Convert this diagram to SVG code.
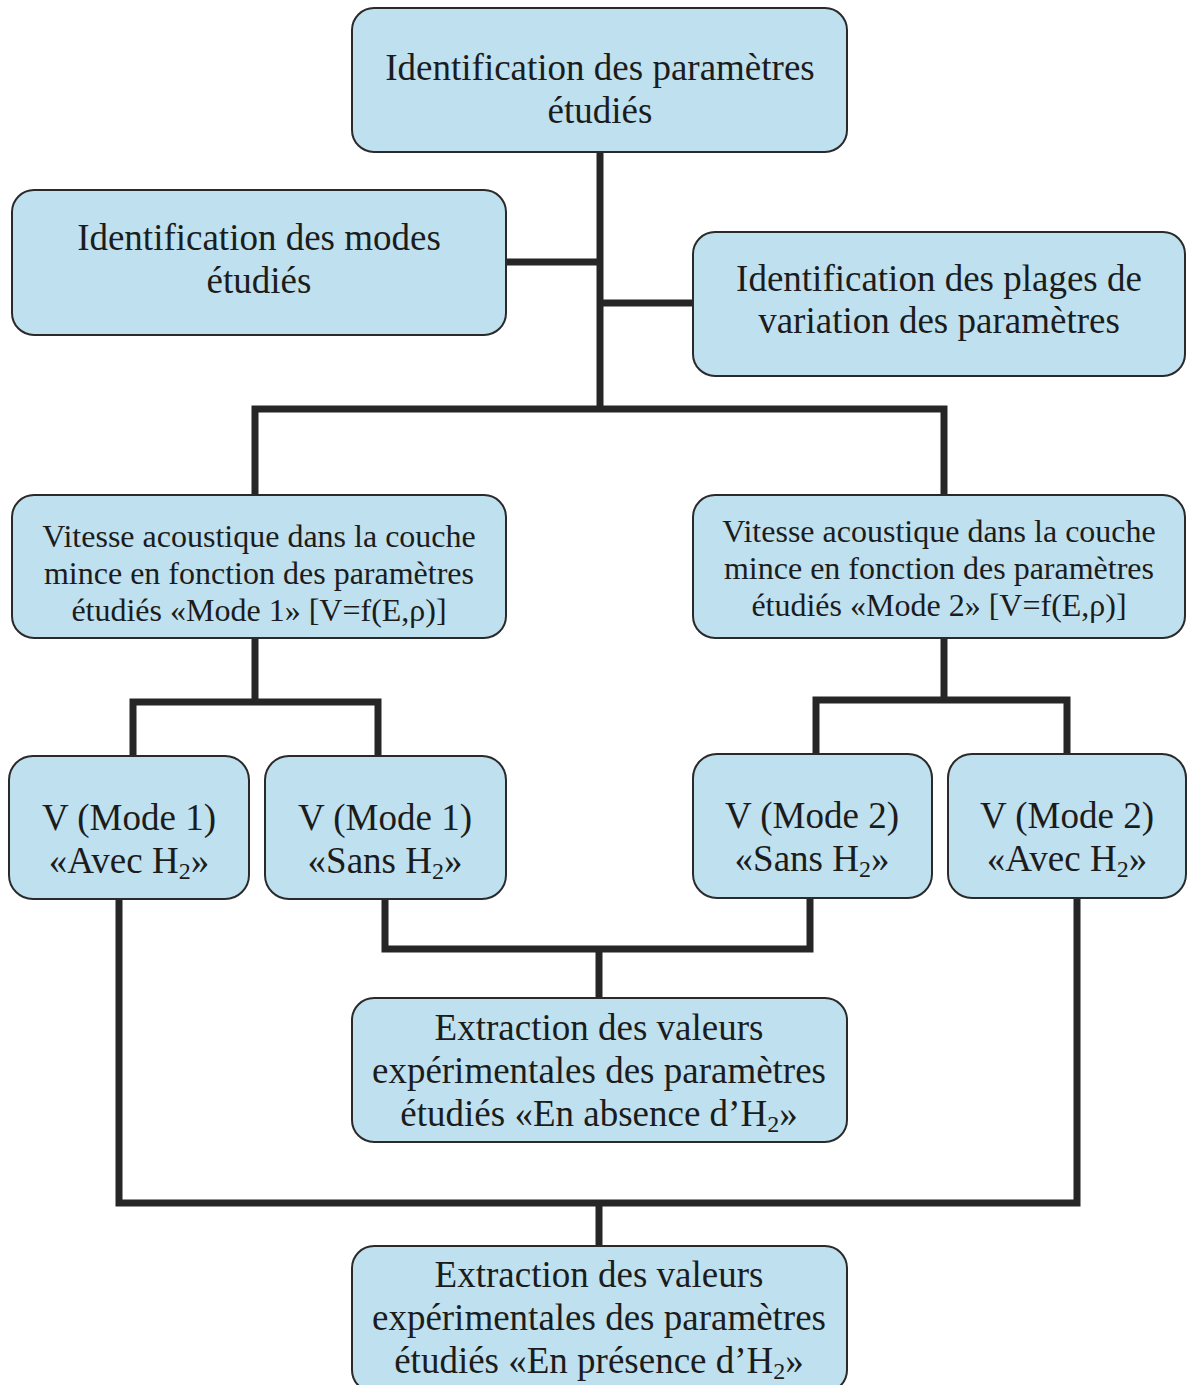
<svg xmlns="http://www.w3.org/2000/svg" width="1188" height="1385" viewBox="0 0 1188 1385">
<style>
.box{fill:#bfe0ee;stroke:#2a2a2a;stroke-width:2}
.t{font-family:"Liberation Serif","Times New Roman",serif;fill:#1c1c1c;text-anchor:middle}
.l{font-size:37px}
.m{font-size:32px}
.sub{font-size:24px}
.c{fill:none;stroke:#262626;stroke-width:7;stroke-linejoin:miter;stroke-linecap:butt}
</style>
<rect width="1188" height="1385" fill="#ffffff"/>
<g id="connectors">
<path class="c" d="M600,152 V409"/>
<path class="c" d="M507,262 H600"/>
<path class="c" d="M600,303 H692"/>
<path class="c" d="M255,495 V409 H944 V495"/>
<path class="c" d="M255,637 V702"/>
<path class="c" d="M133,756 V702 H378 V756"/>
<path class="c" d="M944,637 V700"/>
<path class="c" d="M816,754 V700 H1067 V754"/>
<path class="c" d="M385,899 V949 H810 V898"/>
<path class="c" d="M599,949 V998"/>
<path class="c" d="M119,899 V1203 H1077 V898"/>
<path class="c" d="M599,1203 V1246"/>
</g>
<g id="n1">
<rect class="box" x="352" y="8" width="495" height="144" rx="22"/>
<text class="t l" x="600" y="80">Identification des paramètres</text>
<text class="t l" x="600" y="123">étudiés</text>
</g>
<g id="n2">
<rect class="box" x="12" y="190" width="494" height="145" rx="22"/>
<text class="t l" x="259" y="250">Identification des modes</text>
<text class="t l" x="259" y="293">étudiés</text>
</g>
<g id="n3">
<rect class="box" x="693" y="232" width="492" height="144" rx="22"/>
<text class="t l" x="939" y="291">Identification des plages de</text>
<text class="t l" x="939" y="333">variation des paramètres</text>
</g>
<g id="n4">
<rect class="box" x="12" y="495" width="494" height="143" rx="22"/>
<text class="t m" x="259" y="547">Vitesse acoustique dans la couche</text>
<text class="t m" x="259" y="584">mince en fonction des paramètres</text>
<text class="t m" x="259" y="621">étudiés «Mode 1» [V=f(E,ρ)]</text>
</g>
<g id="n5">
<rect class="box" x="693" y="495" width="492" height="143" rx="22"/>
<text class="t m" x="939" y="542">Vitesse acoustique dans la couche</text>
<text class="t m" x="939" y="579">mince en fonction des paramètres</text>
<text class="t m" x="939" y="616">étudiés «Mode 2» [V=f(E,ρ)]</text>
</g>
<g id="n6">
<rect class="box" x="9" y="756" width="240" height="143" rx="24"/>
<text class="t l" x="129" y="830">V (Mode 1)</text>
<text class="t l" x="129" y="873">«Avec H<tspan class="sub" dy="6">2</tspan><tspan dy="-6">»</tspan></text>
</g>
<g id="n7">
<rect class="box" x="265" y="756" width="241" height="143" rx="24"/>
<text class="t l" x="385" y="830">V (Mode 1)</text>
<text class="t l" x="385" y="873">«Sans H<tspan class="sub" dy="6">2</tspan><tspan dy="-6">»</tspan></text>
</g>
<g id="n8">
<rect class="box" x="693" y="754" width="239" height="144" rx="24"/>
<text class="t l" x="812" y="828">V (Mode 2)</text>
<text class="t l" x="812" y="871">«Sans H<tspan class="sub" dy="6">2</tspan><tspan dy="-6">»</tspan></text>
</g>
<g id="n9">
<rect class="box" x="948" y="754" width="238" height="144" rx="24"/>
<text class="t l" x="1067" y="828">V (Mode 2)</text>
<text class="t l" x="1067" y="871">«Avec H<tspan class="sub" dy="6">2</tspan><tspan dy="-6">»</tspan></text>
</g>
<g id="n10">
<rect class="box" x="352" y="998" width="495" height="144" rx="22"/>
<text class="t l" x="599" y="1040">Extraction des valeurs</text>
<text class="t l" x="599" y="1083">expérimentales des paramètres</text>
<text class="t l" x="599" y="1126">étudiés «En absence d’H<tspan class="sub" dy="6">2</tspan><tspan dy="-6">»</tspan></text>
</g>
<g id="n11">
<rect class="box" x="352" y="1246" width="495" height="146" rx="22"/>
<text class="t l" x="599" y="1287">Extraction des valeurs</text>
<text class="t l" x="599" y="1330">expérimentales des paramètres</text>
<text class="t l" x="599" y="1373">étudiés «En présence d’H<tspan class="sub" dy="6">2</tspan><tspan dy="-6">»</tspan></text>
</g>
</svg>
